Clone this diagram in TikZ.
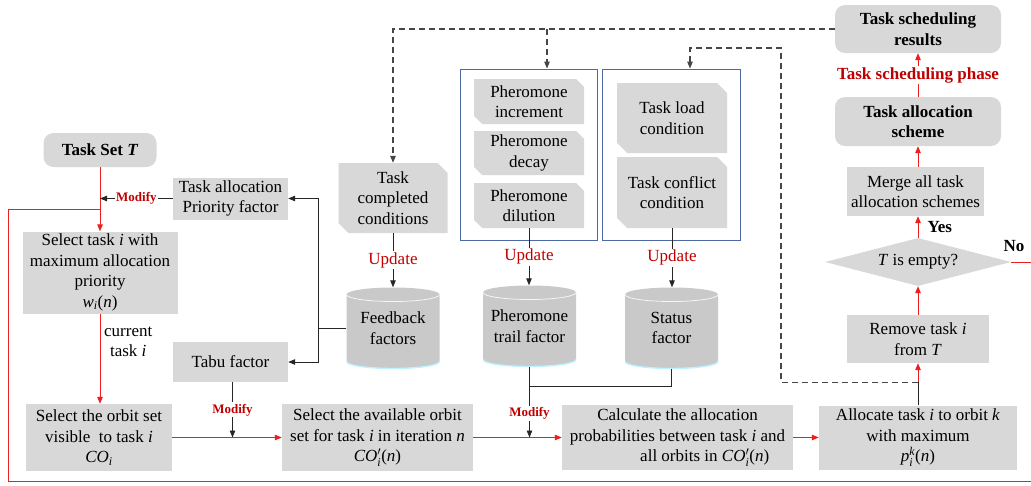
\documentclass[tikz,border=0pt]{standalone}
\usepackage{amsmath}
\usepackage{fontspec}
\setmainfont{Liberation Serif}
\usetikzlibrary{arrows.meta,shapes.geometric,calc}
\definecolor{boxgray}{RGB}{216,216,216}
\definecolor{cylgray}{RGB}{201,201,201}
\definecolor{redline}{RGB}{238,30,30}
\definecolor{darkred}{RGB}{192,0,0}
\definecolor{bluebox}{RGB}{78,106,165}
\definecolor{dashgray}{RGB}{70,70,70}
\newcommand{\vi}[1]{\textit{#1}}
\begin{document}
\begin{tikzpicture}[x=1pt,y=-1pt,
  every node/.style={font=\fontsize{17}{20.5}\selectfont, inner sep=0pt, align=center},
  gbox/.style={rectangle, fill=boxgray},
  rbox/.style={rectangle, rounded corners=10pt, fill=boxgray, font=\fontsize{17}{20.5}\selectfont\bfseries},
  snip/.style={rectangle, path picture={
    \fill[boxgray] (path picture bounding box.north west)
      -- ([xshift=-#1]path picture bounding box.north east)
      -- ([yshift=-#1]path picture bounding box.north east)
      -- (path picture bounding box.south east)
      -- ([xshift=#1]path picture bounding box.south west)
      -- ([yshift=#1]path picture bounding box.south west) -- cycle;}},
  snip/.default=10pt,
  cyl/.style={rectangle, minimum width=93pt, minimum height=81pt, path picture={
    \fill[cylgray] ([yshift=-7pt]path picture bounding box.north west)
      -- ([yshift=7pt]path picture bounding box.south west)
      arc[start angle=180,end angle=360,x radius=46.5pt,y radius=7pt]
      -- ([yshift=-7pt]path picture bounding box.north east)
      arc[start angle=0,end angle=180,x radius=46.5pt,y radius=7pt] -- cycle;
    \draw[white!92!gray, line width=0.8pt] ([yshift=-7pt]path picture bounding box.north west)
      arc[start angle=180,end angle=360,x radius=46.5pt,y radius=7pt];
    \draw[blue!20!cyan!25, line width=1.4pt] ([yshift=7pt]path picture bounding box.south west)
      arc[start angle=180,end angle=360,x radius=46.5pt,y radius=7pt];}},
  bluefr/.style={rectangle, draw=bluebox, line width=0.9pt},
  redarrow/.style={draw=redline, line width=1pt, -{Triangle[length=7pt,width=5.5pt]}},
  redln/.style={draw=redline, line width=1pt},
  blkarrow/.style={draw=black!85, line width=0.9pt, -{Triangle[length=7pt,width=5.5pt]}},
  blkln/.style={draw=black!85, line width=0.9pt},
  dasharrow/.style={draw=dashgray, line width=1.1pt, dash pattern=on 6pt off 4pt, -{Triangle[length=7pt,width=5.5pt]}},
  modlabel/.style={font=\fontsize{13}{15}\selectfont\bfseries, text=darkred, fill=white, inner sep=1.5pt},
  updlabel/.style={font=\fontsize{17}{20}\selectfont, text=darkred, fill=white, inner sep=1.5pt},
  phaselabel/.style={font=\fontsize{17}{20}\selectfont\bfseries, text=darkred, fill=white, inner sep=1.5pt},
  boldlabel/.style={font=\fontsize{17}{20}\selectfont\bfseries}
]
\useasboundingbox (0,0) rectangle (1031,485);

% left column
\node[rbox, minimum width=113pt, minimum height=34pt] (taskset) at (100,150) {Task Set \textit{T}};
\node[gbox, minimum width=115pt, minimum height=42pt] (prio) at (230.5,198.5) {Task allocation\\Priority factor};
\node[gbox, minimum width=155pt, minimum height=82pt] (seltask) at (100,272.5) {Select task \vi{i} with\\maximum allocation\\priority\\\vi{w}$_{\vi{i}}$(\vi{n})};
\node[gbox, minimum width=115pt, minimum height=40pt] (tabu) at (230.5,362) {Tabu factor};
\node[anchor=west] (curlabel) at (104,342) {current\\task \vi{i}};

% middle top
\node[snip, minimum width=109pt, minimum height=70pt] (taskcomp) at (393,198) {Task\\completed\\conditions};
\node[bluefr, minimum width=137pt, minimum height=171pt] (blue1) at (528.5,154.5) {};
\node[bluefr, minimum width=138pt, minimum height=171pt] (blue2) at (671,154.5) {};
\node[snip=8pt, minimum width=110pt, minimum height=45pt] (inc) at (529,101.5) {Pheromone\\increment};
\node[snip=8pt, minimum width=110pt, minimum height=44pt] (decay) at (529,153) {Pheromone\\decay};
\node[snip=8pt, minimum width=110pt, minimum height=45pt] (dil) at (529,205.5) {Pheromone\\dilution};
\node[snip, minimum width=110pt, minimum height=70pt] (load) at (672,118) {Task load\\condition};
\node[snip, minimum width=110pt, minimum height=71pt] (conflict) at (672,192.5) {Task conflict\\condition};

% cylinders
\node[cyl] (feedback) at (393,328) {Feedback\\factors};
\node[cyl] (pher) at (529.5,326) {Pheromone\\trail factor};
\node[cyl] (status) at (671.5,328) {Status\\factor};

% bottom row
\node[gbox, minimum width=146pt, minimum height=67pt] (orbitset) at (99,437.5) {Select the orbit set\\visible\ \ to task \vi{i}\\\vi{CO}$_{\vi{i}}$};
\node[gbox, minimum width=191pt, minimum height=67pt] (avail) at (377.5,437.5) {Select the available orbit\\set for task \vi{i} in iteration \vi{n}\\\vi{CO}${}^{\prime}_{\vi{i}}$(\vi{n})};
\node[gbox, minimum width=231pt, minimum height=65pt] (calc) at (677.5,437.5) {Calculate the allocation\\probabilities between task \vi{i} and\\\hspace*{3.2em}all orbits in \vi{CO}${}^{\prime}_{\vi{i}}$(\vi{n})};
\node[gbox, minimum width=198pt, minimum height=64pt] (alloc) at (918,437.5) {Allocate task \vi{i} to orbit \vi{k}\\with maximum\\\vi{p}$^{\vi{k}}_{\vi{i}}$(\vi{n})};

% right column
\node[gbox, minimum width=142pt, minimum height=48pt] (remove) at (918,339) {Remove task \vi{i}\\from \vi{T}};
\node[diamond, fill=boxgray, aspect=3.875, minimum width=186pt, minimum height=48pt] (empty) at (918,262) {\vi{T} is empty?};
\node[gbox, minimum width=137pt, minimum height=49pt] (merge) at (915.5,191.5) {Merge all task\\allocation schemes};
\node[rbox, minimum width=166pt, minimum height=49pt] (scheme) at (918,121.5) {Task allocation\\scheme};
\node[rbox, minimum width=166pt, minimum height=48pt] (results) at (918,29) {Task scheduling\\results};
\node[boldlabel] (nolabel) at (1014,246) {No};

% coordinates
\coordinate (j1) at (100,209);
\coordinate (lb) at (8,481);
\coordinate (rb) at (1032,481);
\coordinate (fbj) at (318,328);
\coordinate (d1) at (781,48);
\coordinate (aj) at ($(alloc.north)+(0,-23)$);

% red flow
\draw[redarrow] (taskset.south) -- (seltask.north);
\draw[redln] (empty.east) -- (empty.east -| rb) -- (rb) -- (lb) -- (lb |- j1) -- (j1);
\draw[redarrow] (seltask.south) -- (seltask.south |- orbitset.north);
\draw[redarrow] (orbitset.east) -- (avail.west);
\draw[redarrow] (avail.east) -- (calc.west);
\draw[redarrow] (calc.east) -- (alloc.west);
\draw[blkln] (alloc.north) -- (aj);
\draw[redarrow] (aj) -- (remove.south);
\draw[redarrow] (remove.north) -- (empty.south);
\draw[redarrow] (empty.north) -- (empty.north |- merge.south) node[midway, anchor=west, xshift=9pt, boldlabel] {Yes};
\draw[redarrow] (scheme.south |- merge.north) -- (scheme.south);
\draw[redarrow] (scheme.north) -- (results.south) node[midway, phaselabel] {Task scheduling phase};

% black connectors
\draw[blkarrow] (prio.west) -- (prio.west -| taskset.south) node[midway, modlabel] {Modify};
\draw[blkln] (feedback.west) -- (fbj);
\draw[blkarrow] (fbj) |- (prio.east);
\draw[blkarrow] (fbj) |- (tabu.east);
\draw[blkarrow] ([xshift=2pt]tabu.south) -- ([xshift=2pt]tabu.south |- orbitset.east) node[midway, modlabel] {Modify};
\draw[blkarrow] (pher.south) -- (pher.south |- calc.west) node[pos=0.66, modlabel] {Modify};
\draw[blkln] (status.south) |- ($(pher.south)+(0,20)$);
\draw[blkarrow] (taskcomp.south) -- (taskcomp.south |- feedback.north) node[midway, updlabel] {Update};
\draw[blkarrow] (dil.south) -- (dil.south |- pher.north) node[midway, updlabel] {Update};
\draw[blkarrow] (conflict.south) -- (conflict.south |- status.north) node[midway, updlabel] {Update};

% dashed feedback
\draw[dasharrow] (results.west) -| (taskcomp.north);
\draw[dasharrow] ([xshift=18.5pt]blue1.north |- results.west) -- ([xshift=18.5pt]blue1.north);
\draw[dasharrow] (aj) -| (d1) -| ([xshift=19pt]blue2.north);
\end{tikzpicture}
\end{document}
